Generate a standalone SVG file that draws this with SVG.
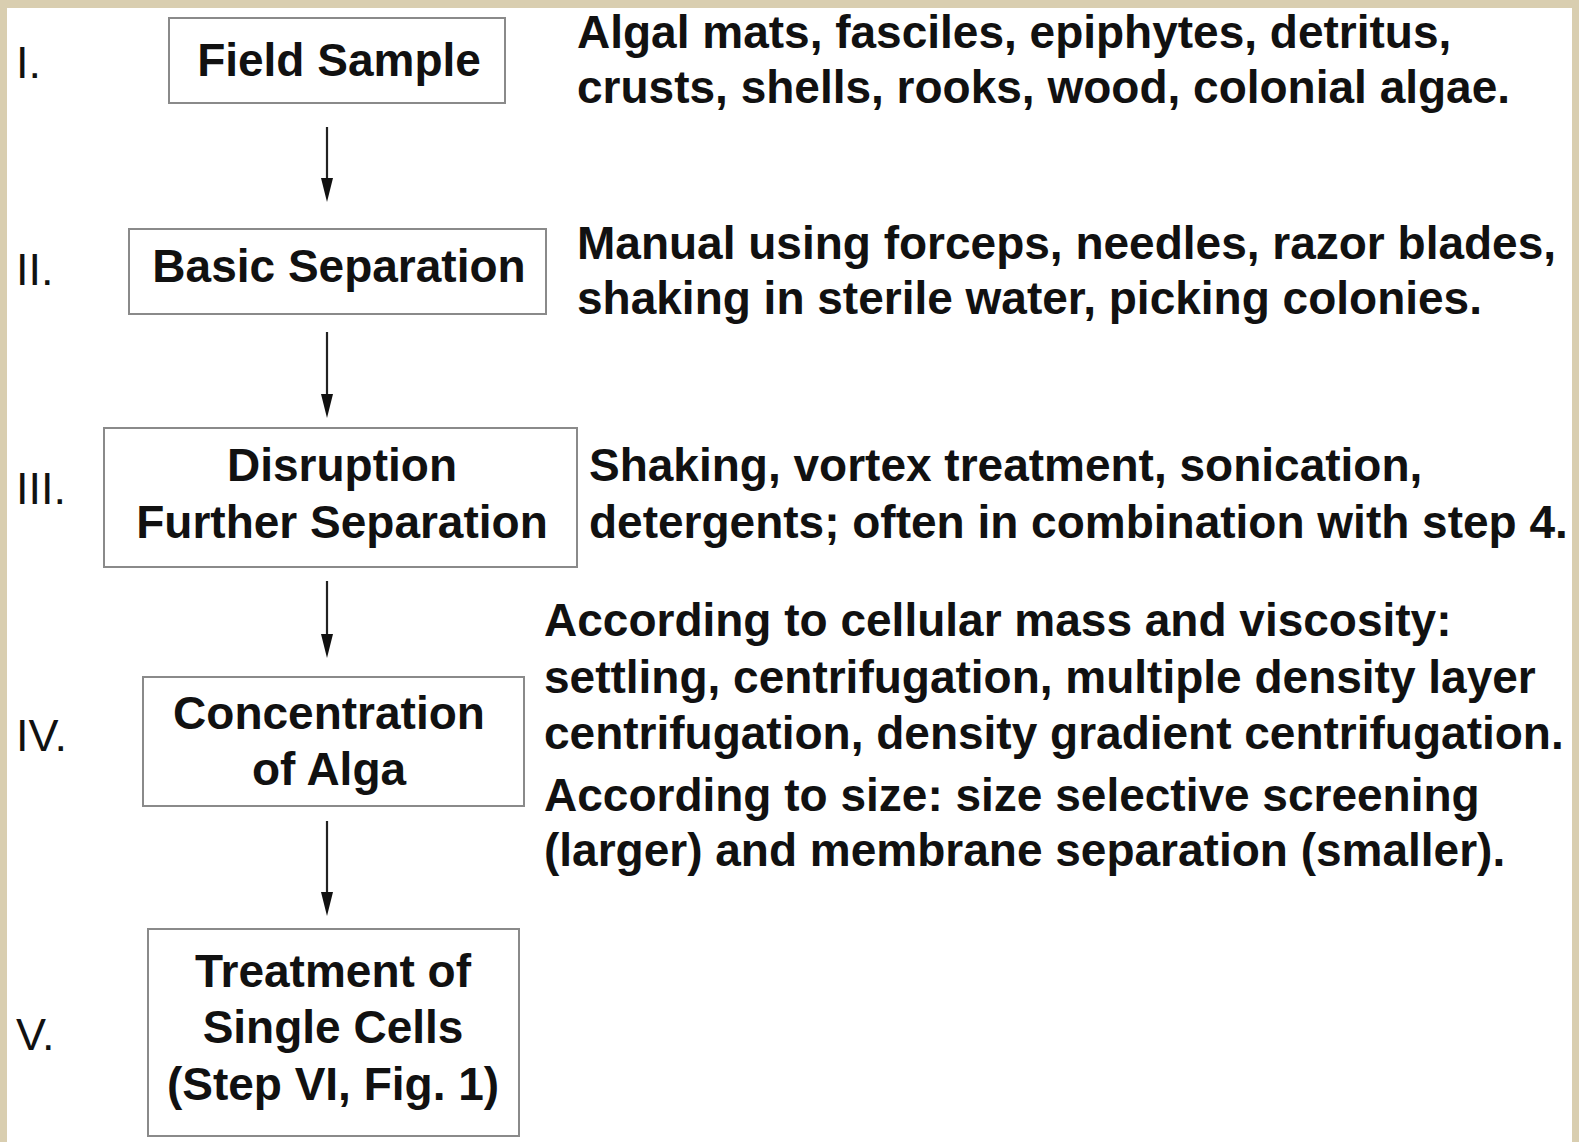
<svg xmlns="http://www.w3.org/2000/svg" width="1579" height="1142" viewBox="0 0 1579 1142">
<defs>
<style>
.box{fill:#fff;stroke:#8a8a8a;stroke-width:2}
.t{font-family:"Liberation Sans",Arial,sans-serif;font-weight:bold;font-size:46px;fill:#111}
.c{text-anchor:middle}
.n{font-family:"Liberation Sans",Arial,sans-serif;font-size:45px;fill:#111}
.ln{stroke:#222;stroke-width:2.2;fill:none}
.ah{fill:#111}
</style>
</defs>
<rect x="0" y="0" width="1579" height="1142" fill="#d9ceb0"/>
<rect x="7" y="8" width="1565" height="1134" fill="#fff"/>
<g id="connectors">
<line class="ln" x1="327" y1="127" x2="327" y2="180"/>
<path class="ah" d="M321,178 L333,178 L327,202 Z"/>
<line class="ln" x1="327" y1="332" x2="327" y2="396"/>
<path class="ah" d="M321,394 L333,394 L327,418 Z"/>
<line class="ln" x1="327" y1="581" x2="327" y2="636"/>
<path class="ah" d="M321,634 L333,634 L327,658 Z"/>
<line class="ln" x1="327" y1="821" x2="327" y2="894"/>
<path class="ah" d="M321,892 L333,892 L327,916 Z"/>
</g>
<g id="step1">
<text class="n" x="16" y="78">I.</text>
<rect class="box" x="169" y="18" width="336" height="85"/>
<text class="t c" x="339" y="76">Field Sample</text>
<text class="t" x="577" y="48">Algal mats, fasciles, epiphytes, detritus,</text>
<text class="t" x="577" y="103">crusts, shells, rooks, wood, colonial algae.</text>
</g>
<g id="step2">
<text class="n" x="16" y="285">II.</text>
<rect class="box" x="129" y="229" width="417" height="85"/>
<text class="t c" x="339" y="282">Basic Separation</text>
<text class="t" x="577" y="259">Manual using forceps, needles, razor blades,</text>
<text class="t" x="577" y="314">shaking in sterile water, picking colonies.</text>
</g>
<g id="step3">
<text class="n" x="16" y="504">III.</text>
<rect class="box" x="104" y="428" width="473" height="139"/>
<text class="t c" x="342" y="481">Disruption</text>
<text class="t c" x="342" y="538">Further Separation</text>
<text class="t" x="589" y="481">Shaking, vortex treatment, sonication,</text>
<text class="t" x="589" y="538">detergents; often in combination with step 4.</text>
</g>
<g id="step4">
<text class="n" x="16" y="751">IV.</text>
<rect class="box" x="143" y="677" width="381" height="129"/>
<text class="t c" x="329" y="729">Concentration</text>
<text class="t c" x="329" y="785">of Alga</text>
<text class="t" x="544" y="636">According to cellular mass and viscosity:</text>
<text class="t" x="544" y="693">settling, centrifugation, multiple density layer</text>
<text class="t" x="544" y="749">centrifugation, density gradient centrifugation.</text>
<text class="t" x="544" y="811">According to size: size selective screening</text>
<text class="t" x="544" y="866">(larger) and membrane separation (smaller).</text>
</g>
<g id="step5">
<text class="n" x="16" y="1050">V.</text>
<rect class="box" x="148" y="929" width="371" height="207"/>
<text class="t c" x="333" y="987">Treatment of</text>
<text class="t c" x="333" y="1043">Single Cells</text>
<text class="t c" x="333" y="1100">(Step VI, Fig. 1)</text>
</g>
</svg>
